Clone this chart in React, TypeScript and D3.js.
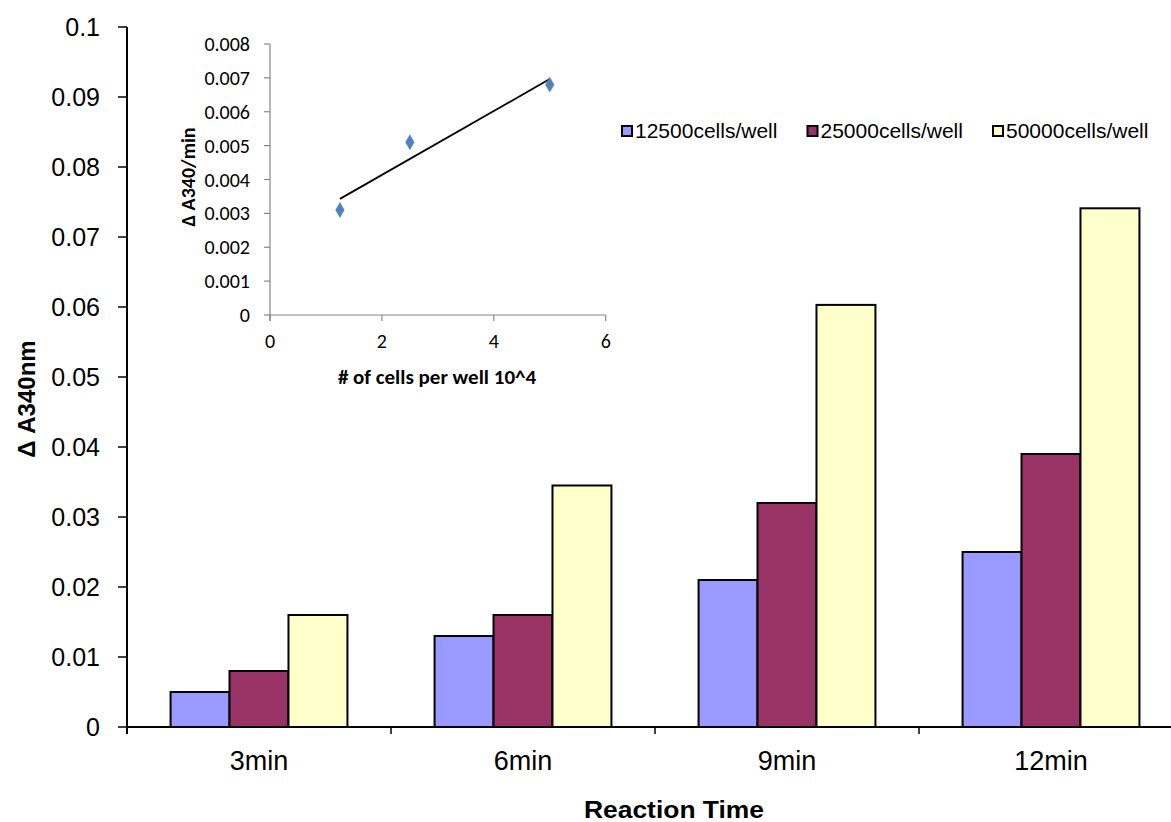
import React from "react";
import * as d3 from "d3";

const categories = ["3min", "6min", "9min", "12min"];
const seriesNames = ["12500cells/well", "25000cells/well", "50000cells/well"];
const seriesColors = ["#9999FF", "#993366", "#FFFFCC"];
const values12500 = [0.005, 0.013, 0.021, 0.025];
const values25000 = [0.008, 0.016, 0.032, 0.039];
const values50000 = [0.016, 0.0345, 0.0603, 0.0741];
const yTicks = [0, 0.01, 0.02, 0.03, 0.04, 0.05, 0.06, 0.07, 0.08, 0.09, 0.1];

const insetX = [1.25, 2.5, 5];
const insetY = [0.0031, 0.0051, 0.0068];
const insetXTicks = [0, 2, 4, 6];
const insetYTicks = [0, 0.001, 0.002, 0.003, 0.004, 0.005, 0.006, 0.007, 0.008];

const W = 1171;
const H = 822;

export default function App() {
  const series = [values12500, values25000, values50000];
  const y = d3.scaleLinear().domain([0, 0.1]).range([727, 27]);
  const x0 = d3
    .scaleBand<string>()
    .domain(categories)
    .range([127, 1183])
    .paddingInner(0.33)
    .paddingOuter(0.165);
  const x1 = d3
    .scaleBand<number>()
    .domain([0, 1, 2])
    .range([0, x0.bandwidth()]);
  const step = x0.step();
  const catTicks = categories.map((_, i) => 127 + i * step);

  // inset
  const ix = d3.scaleLinear().domain([0, 6]).range([270, 605.7]);
  const iy = d3.scaleLinear().domain([0, 0.008]).range([315, 44]);
  const mx = d3.mean(insetX)!;
  const my = d3.mean(insetY)!;
  const sxy = d3.sum(insetX.map((v, i) => (v - mx) * (insetY[i] - my)));
  const sxx = d3.sum(insetX.map((v) => (v - mx) * (v - mx)));
  const slope = sxy / sxx;
  const icpt = my - slope * mx;
  const xMin = d3.min(insetX)!;
  const xMax = d3.max(insetX)!;
  const trend = d3.line<number>()
    .x((d) => ix(d))
    .y((d) => iy(icpt + slope * d))([xMin, xMax]);
  const diamond = d3.symbol().type(d3.symbolDiamond).size(64)();

  const mainFont = "'Liberation Sans', Arial, sans-serif";
  const insetFont = "Carlito, Lato, 'Open Sans', sans-serif";

  return (
    <div style={{ position: "absolute", left: 0, top: 0 }}>
      <svg width={W} height={H} style={{ display: "block", background: "#fff" }}>
        <rect x={0} y={0} width={W} height={H} fill="#fff" />
        {/* bars */}
        {categories.map((c, ci) => (
          <g key={c} transform={`translate(${x0(c)},0)`}>
            {series.map((s, si) => (
              <rect
                key={si}
                x={x1(si)}
                y={y(s[ci])}
                width={x1.bandwidth()}
                height={y(0) - y(s[ci])}
                fill={seriesColors[si]}
                stroke="#000"
                strokeWidth={2}
              />
            ))}
          </g>
        ))}
        {/* y axis */}
        <line x1={127} x2={127} y1={y(0.1)} y2={y(0) + 7} stroke="#000" strokeWidth={2} />
        {yTicks.map((t) => (
          <g key={t}>
            <line x1={118} x2={127} y1={y(t)} y2={y(t)} stroke="#000" strokeWidth={1.5} />
            <text
              x={100}
              y={y(t)}
              dy="0.36em"
              textAnchor="end"
              fontFamily={mainFont}
              fontSize={25}
              fill="#000"
            >
              {t === 0 ? "0" : String(t)}
            </text>
          </g>
        ))}
        {/* x axis */}
        <line x1={127} x2={1183} y1={y(0)} y2={y(0)} stroke="#000" strokeWidth={2} />
        {catTicks.map((t, i) => (
          <line key={i} x1={t} x2={t} y1={y(0)} y2={y(0) + 7} stroke="#000" strokeWidth={1.5} />
        ))}
        {categories.map((c) => (
          <text
            key={c}
            x={x0(c)! + x0.bandwidth() / 2}
            y={770}
            textAnchor="middle"
            fontFamily={mainFont}
            fontSize={27}
            fill="#000"
          >
            {c}
          </text>
        ))}
        <text
          x={674}
          y={818}
          textAnchor="middle"
          fontFamily={mainFont}
          fontSize={23}
          fontWeight="bold"
          fill="#000"
          textLength={180}
          lengthAdjust="spacingAndGlyphs"
        >
          Reaction Time
        </text>
        <text
          transform={`translate(35,399) rotate(-90)`}
          textAnchor="middle"
          fontFamily={mainFont}
          fontSize={24}
          fontWeight="bold"
          fill="#000"
        >
          Δ A340nm
        </text>
        {/* legend */}
        {seriesNames.map((n, i) => {
          const lx = 622 + i * 185.5;
          return (
            <g key={n}>
              <rect x={lx} y={126} width={10} height={10} fill={seriesColors[i]} stroke="#000" strokeWidth={2} />
              <text x={lx + 13} y={138} fontFamily={mainFont} fontSize={21} fill="#000">
                {n}
              </text>
            </g>
          );
        })}

        {/* inset */}
        <line x1={ix(0)} x2={ix(0)} y1={iy(0.008)} y2={iy(0) + 6} stroke="#868686" strokeWidth={1.2} />
        <line x1={ix(0)} x2={ix(6)} y1={iy(0)} y2={iy(0)} stroke="#868686" strokeWidth={1.2} />
        {insetYTicks.map((t) => (
          <g key={t}>
            <line x1={ix(0) - 6} x2={ix(0)} y1={iy(t)} y2={iy(t)} stroke="#868686" strokeWidth={1.2} />
            <text
              x={250}
              y={iy(t)}
              dy="0.35em"
              textAnchor="end"
              fontFamily={insetFont}
              fontSize={20}
              fill="#000"
            >
              {t === 0 ? "0" : d3.format(".3f")(t)}
            </text>
          </g>
        ))}
        {insetXTicks.map((t) => (
          <g key={t}>
            <line x1={ix(t)} x2={ix(t)} y1={iy(0)} y2={iy(0) + 6} stroke="#868686" strokeWidth={1.2} />
            <text x={ix(t)} y={348} textAnchor="middle" fontFamily={insetFont} fontSize={20} fill="#000">
              {t}
            </text>
          </g>
        ))}
        <path d={trend ?? ""} fill="none" stroke="#000" strokeWidth={1.8} />
        {insetX.map((v, i) => (
          <path
            key={i}
            d={diamond ?? ""}
            transform={`translate(${ix(v)},${iy(insetY[i])})`}
            fill="#4F81BD"
            stroke="#4A7EBB"
            strokeWidth={0.5}
          />
        ))}
        <text
          x={437}
          y={384}
          textAnchor="middle"
          fontFamily={insetFont}
          fontSize={21}
          fontWeight="bold"
          fill="#000"
        >
          # of cells per well 10^4
        </text>
        <text
          transform={`translate(195,177) rotate(-90)`}
          textAnchor="middle"
          fontFamily={insetFont}
          fontSize={20}
          fontWeight="bold"
          fill="#000"
        >
          Δ A340/min
        </text>
      </svg>
    </div>
  );
}
